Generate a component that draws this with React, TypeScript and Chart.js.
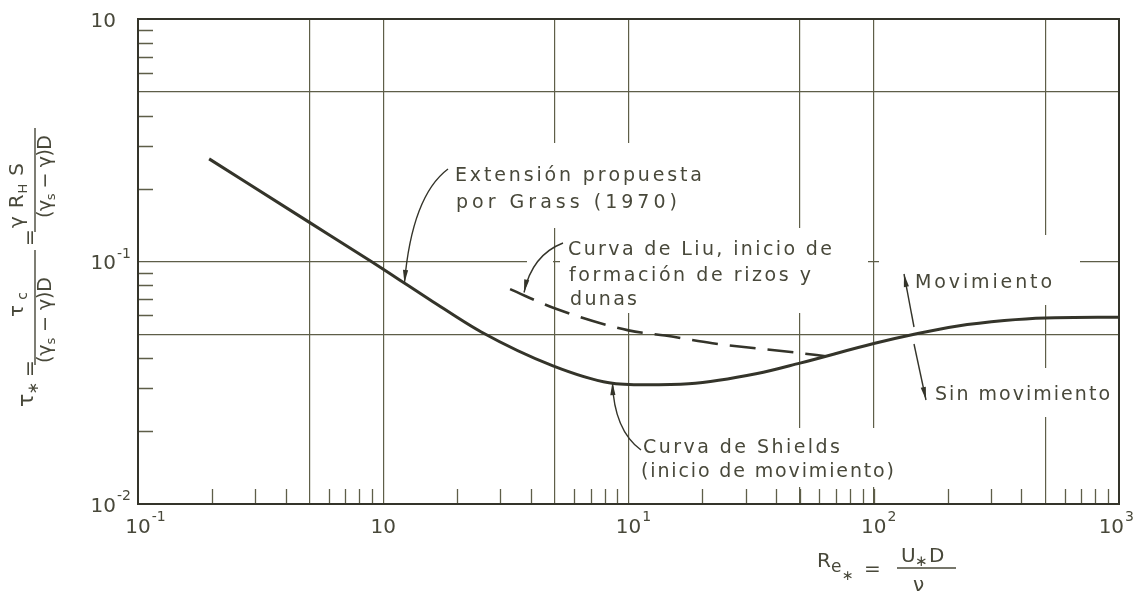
import React, { useEffect, useRef } from 'react';
import { Chart, registerables } from 'chart.js';

Chart.register(...registerables);

// ---------- data ----------
const SHIELDS_RE = [0.195, 0.5, 0.894, 1.166, 1.555, 2.5, 4.92, 8.33, 11.7, 17.6, 33.5, 50, 100, 151, 217, 341, 500, 1000];
const SHIELDS_TAU = [0.265, 0.145, 0.1, 0.0839, 0.0694, 0.0513, 0.0371, 0.0316, 0.031, 0.0313, 0.0345, 0.0381, 0.0459, 0.0505, 0.0541, 0.0571, 0.0585, 0.0589];
const LIU_RE = [3.29, 5.06, 10, 14.1, 22, 49.2, 63.7];
const LIU_TAU = [0.0769, 0.0638, 0.052, 0.0495, 0.046, 0.042, 0.0407];

const X_GRID = [0.1, 0.5, 1, 5, 10, 50, 100, 500, 1000];
const Y_GRID = [0.01, 0.05, 0.1, 0.5, 1];
const X_MINOR = [0.2, 0.3, 0.4, 0.6, 0.7, 0.8, 0.9, 2, 3, 4, 6, 7, 8, 9, 20, 30, 40, 50, 60, 70, 80, 90, 100, 200, 300, 400, 600, 700, 800, 900];
const Y_MINOR = [0.9, 0.8, 0.7, 0.6, 0.4, 0.3, 0.2, 0.09, 0.08, 0.07, 0.06, 0.04, 0.03, 0.02];
const X_LABEL_VALUES = [0.1, 1, 10, 100, 1000];
const X_LABEL_EXP = ['-1', '', '1', '2', '3'];
const Y_LABEL_VALUES = [1, 0.1, 0.01];
const Y_LABEL_EXP = ['', '-1', '-2'];

// ---------- styling / layout ----------
const FONT = '"DejaVu Sans", sans-serif';
const INK = '#34342a';
const TEXT_INK = '#48483a';
const GRID_INK = '#5e5e48';

type Run = { t: string; size: number; dy?: number };

function setFont(ctx: CanvasRenderingContext2D, size: number) {
  ctx.font = `${size}px ${FONT}`;
}

function drawFitted(ctx: CanvasRenderingContext2D, s: string, x: number, y: number, w: number, size: number) {
  setFont(ctx, size);
  const chars = Array.from(s);
  let nat = 0;
  for (const c of chars) nat += ctx.measureText(c).width;
  const sp = chars.length > 1 ? (w - nat) / (chars.length - 1) : 0;
  let cx = x;
  for (const c of chars) {
    ctx.fillText(c, cx, y);
    cx += ctx.measureText(c).width + sp;
  }
}

function runsNatural(ctx: CanvasRenderingContext2D, runs: Run[]) {
  let w = 0;
  let n = 0;
  for (const r of runs) {
    setFont(ctx, r.size);
    for (const c of Array.from(r.t)) {
      w += ctx.measureText(c).width;
      n++;
    }
  }
  return { w, n };
}

function drawRunsFit(ctx: CanvasRenderingContext2D, runs: Run[], u1: number, u2: number, v: number) {
  const { w, n } = runsNatural(ctx, runs);
  const sp = n > 1 ? (u2 - u1 - w) / (n - 1) : 0;
  let u = u1;
  for (const r of runs) {
    setFont(ctx, r.size);
    for (const c of Array.from(r.t)) {
      ctx.fillText(c, u, v + (r.dy || 0));
      u += ctx.measureText(c).width + sp;
    }
  }
}

function arrowHead(ctx: CanvasRenderingContext2D, tx: number, ty: number, fx: number, fy: number, len = 13, half = 2.6) {
  const a = Math.atan2(ty - fy, tx - fx);
  const c = Math.cos(a), s = Math.sin(a);
  ctx.beginPath();
  ctx.moveTo(tx, ty);
  ctx.lineTo(tx - len * c + half * s, ty - len * s - half * c);
  ctx.lineTo(tx - len * c - half * s, ty - len * s + half * c);
  ctx.closePath();
  ctx.fill();
}

const MASKS = [
  [445, 143, 265, 85],
  [560, 228, 308, 85],
  [527, 257, 26, 9],
  [879, 235, 201, 70],
  [930, 368, 182, 49],
  [636, 428, 264, 59],
];

const NOTES = [
  { s: 'Extensión propuesta', x: 455, y: 181, w: 247 },
  { s: 'por Grass (1970)', x: 456, y: 208, w: 221 },
  { s: 'Curva de Liu, inicio de', x: 568, y: 255, w: 264 },
  { s: 'formación de rizos y', x: 569, y: 281, w: 242 },
  { s: 'dunas', x: 570, y: 305, w: 67 },
  { s: 'Movimiento', x: 915, y: 288, w: 137 },
  { s: 'Sin movimiento', x: 935, y: 400, w: 175 },
  { s: 'Curva de Shields', x: 643, y: 453, w: 197 },
  { s: '(inicio de movimiento)', x: 641, y: 477, w: 253 },
];

const LEADERS = [
  { from: [448, 169], ctrl: [412, 196], to: [1.22, 0.0815] },
  { from: [563, 243], ctrl: [532, 255], to: [3.75, 0.0745] },
  { from: [641, 450], ctrl: [614, 430], to: [8.6, 0.0318] },
];

const ARROWS = [
  { from: [914, 327], to: [904, 274] },
  { from: [914, 344], to: [926, 400] },
];

const decorPlugin = {
  id: 'decor',
  beforeDraw(chart: any) {
    const ctx = chart.ctx as CanvasRenderingContext2D;
    ctx.save();
    ctx.fillStyle = '#ffffff';
    ctx.fillRect(0, 0, chart.width, chart.height);
    ctx.restore();
  },
  beforeDatasetsDraw(chart: any) {
    const ctx = chart.ctx as CanvasRenderingContext2D;
    const { left, bottom } = chart.chartArea;
    const xs = chart.scales.x, ys = chart.scales.y;
    ctx.save();
    ctx.fillStyle = '#ffffff';
    for (const m of MASKS) ctx.fillRect(m[0], m[1], m[2], m[3]);
    ctx.strokeStyle = GRID_INK;
    ctx.lineWidth = 1.3;
    ctx.beginPath();
    for (const v of X_MINOR) {
      const px = Math.round(xs.getPixelForValue(v)) + 0.5;
      ctx.moveTo(px, bottom);
      ctx.lineTo(px, bottom - 15);
    }
    for (const v of Y_MINOR) {
      const py = Math.round(ys.getPixelForValue(v)) + 0.5;
      ctx.moveTo(left, py);
      ctx.lineTo(left + 15, py);
    }
    ctx.stroke();
    ctx.restore();
  },
  afterDatasetsDraw(chart: any) {
    const ctx = chart.ctx as CanvasRenderingContext2D;
    const { left, top, right, bottom } = chart.chartArea;
    const xs = chart.scales.x, ys = chart.scales.y;
    ctx.save();
    // frame
    ctx.strokeStyle = INK;
    ctx.lineWidth = 2;
    ctx.strokeRect(left, top, right - left, bottom - top);

    // notes
    ctx.fillStyle = TEXT_INK;
    ctx.textBaseline = 'alphabetic';
    for (const n of NOTES) drawFitted(ctx, n.s, n.x, n.y, n.w, 19);

    // leaders
    ctx.strokeStyle = INK;
    ctx.fillStyle = INK;
    ctx.lineWidth = 1.4;
    for (const l of LEADERS) {
      const tx = xs.getPixelForValue(l.to[0]);
      const ty = ys.getPixelForValue(l.to[1]);
      ctx.beginPath();
      ctx.moveTo(l.from[0], l.from[1]);
      ctx.quadraticCurveTo(l.ctrl[0], l.ctrl[1], tx, ty);
      ctx.stroke();
      arrowHead(ctx, tx, ty, l.ctrl[0], l.ctrl[1]);
    }
    for (const a of ARROWS) {
      ctx.beginPath();
      ctx.moveTo(a.from[0], a.from[1]);
      ctx.lineTo(a.to[0], a.to[1]);
      ctx.stroke();
      arrowHead(ctx, a.to[0], a.to[1], a.from[0], a.from[1]);
    }

    // tick labels
    ctx.fillStyle = TEXT_INK;
    X_LABEL_VALUES.forEach((v, i) => {
      const px = xs.getPixelForValue(v);
      setFont(ctx, 20);
      const bw = ctx.measureText('10').width;
      const exp = X_LABEL_EXP[i];
      setFont(ctx, 14);
      const ew = exp ? ctx.measureText(exp).width + 1 : 0;
      let x0 = px - bw / 2;
      if (x0 + bw + ew > chart.width - 6) x0 = chart.width - 6 - bw - ew;
      setFont(ctx, 20);
      ctx.fillText('10', x0, 533);
      if (exp) {
        setFont(ctx, 14);
        ctx.fillText(exp, x0 + bw + 1, 521);
      }
    });
    Y_LABEL_VALUES.forEach((v, i) => {
      const py = ys.getPixelForValue(v);
      setFont(ctx, 20);
      const bw = ctx.measureText('10').width;
      ctx.fillText('10', 116 - bw, py + 7.5);
      const exp = Y_LABEL_EXP[i];
      if (exp) {
        setFont(ctx, 14);
        ctx.fillText(exp, 117, py - 4);
      }
    });

    // x title: Re* = U*D / nu
    setFont(ctx, 20);
    ctx.fillText('R', 817, 567);
    setFont(ctx, 17);
    ctx.fillText('e', 831, 572);
    setFont(ctx, 14);
    ctx.fillText('∗', 842, 580);
    setFont(ctx, 20);
    ctx.fillText('=', 864, 575);
    ctx.fillText('U', 901, 562);
    setFont(ctx, 15);
    ctx.fillText('∗', 915, 566);
    setFont(ctx, 20);
    ctx.fillText('D', 929, 562);
    ctx.fillText('ν', 913, 591);
    ctx.strokeStyle = TEXT_INK;
    ctx.lineWidth = 1.4;
    ctx.beginPath();
    ctx.moveTo(897, 568);
    ctx.lineTo(956, 568);
    ctx.stroke();

    // y title (rotated): local (u,v) -> image (35+v, -u)
    ctx.save();
    ctx.translate(35, 0);
    ctx.rotate(-Math.PI / 2);
    ctx.beginPath();
    ctx.moveTo(-365, 0);
    ctx.lineTo(-250, 0);
    ctx.moveTo(-232, 0);
    ctx.lineTo(-128, 0);
    ctx.stroke();
    const denom: Run[] = [
      { t: '(', size: 19 }, { t: 'γ', size: 19 }, { t: 's', size: 13, dy: 4 },
      { t: ' − ', size: 19 }, { t: 'γ', size: 19 }, { t: ')D', size: 19 },
    ];
    drawRunsFit(ctx, [{ t: 'τ', size: 22 }, { t: '∗', size: 15, dy: 5 }], -407, -382, -2);
    drawRunsFit(ctx, [{ t: '=', size: 20 }], -377, -365, 1);
    drawRunsFit(ctx, [{ t: 'τ', size: 20 }, { t: 'c', size: 14, dy: 4 }], -317, -292, -12);
    drawRunsFit(ctx, denom, -363, -277, 16);
    drawRunsFit(ctx, [{ t: '=', size: 20 }], -246, -236, 1);
    drawRunsFit(ctx, [{ t: 'γ ', size: 20 }, { t: 'R', size: 20 }, { t: 'H', size: 13, dy: 4 }, { t: ' S', size: 20 }], -228, -163, -12);
    drawRunsFit(ctx, denom, -218, -135, 16);
    ctx.restore();

    ctx.restore();
  },
};

export default function App() {
  const ref = useRef<HTMLCanvasElement>(null);
  useEffect(() => {
    if (!ref.current) return;
    const chart = new Chart(ref.current, {
      type: 'line',
      data: {
        datasets: [
          {
            label: 'Curva de Shields',
            data: SHIELDS_RE.map((x, i) => ({ x, y: SHIELDS_TAU[i] })),
            borderColor: INK,
            borderWidth: 3,
            pointRadius: 0,
            fill: false,
            cubicInterpolationMode: 'monotone',
          },
          {
            label: 'Curva de Liu',
            data: LIU_RE.map((x, i) => ({ x, y: LIU_TAU[i] })),
            borderColor: INK,
            borderWidth: 2.6,
            borderDash: [26, 12],
            pointRadius: 0,
            fill: false,
            cubicInterpolationMode: 'monotone',
          },
        ],
      },
      options: {
        responsive: false,
        devicePixelRatio: 1,
        animation: false,
        layout: { padding: { left: 138, right: 21, top: 19, bottom: 97 } },
        plugins: { legend: { display: false }, tooltip: { enabled: false } },
        scales: {
          x: {
            type: 'logarithmic',
            min: 0.1,
            max: 1000,
            afterBuildTicks: (s: any) => { s.ticks = X_GRID.map((v) => ({ value: v })); },
            afterFit: (s: any) => { s.height = 0; },
            ticks: { display: false },
            grid: { color: GRID_INK, lineWidth: 1.2, drawTicks: false },
            border: { display: false },
          },
          y: {
            type: 'logarithmic',
            min: 0.01,
            max: 1,
            afterBuildTicks: (s: any) => { s.ticks = Y_GRID.map((v) => ({ value: v })); },
            afterFit: (s: any) => { s.width = 0; },
            ticks: { display: false },
            grid: { color: GRID_INK, lineWidth: 1.2, drawTicks: false },
            border: { display: false },
          },
        },
      } as any,
      plugins: [decorPlugin as any],
    });
    return () => chart.destroy();
  }, []);
  return (
    <div style={{ position: 'absolute', left: 0, top: 0, width: 1140, height: 601, background: '#fff' }}>
      <canvas ref={ref} width={1140} height={601} style={{ display: 'block', width: 1140, height: 601 }} />
    </div>
  );
}
